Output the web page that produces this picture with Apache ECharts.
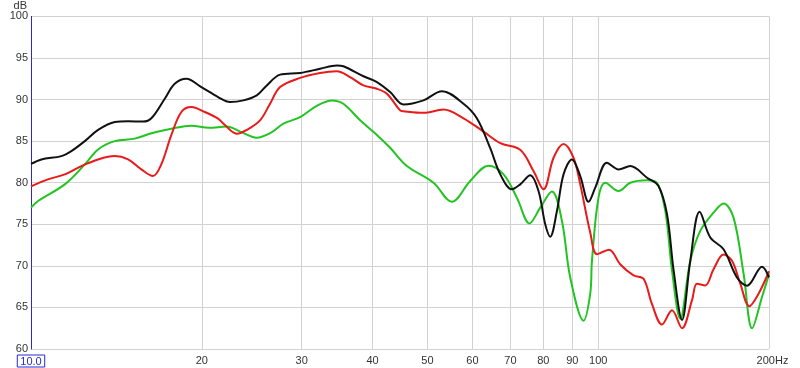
<!DOCTYPE html>
<html>
<head>
<meta charset="utf-8">
<script src="https://cdn.jsdelivr.net/npm/echarts@6/dist/echarts.min.js"></script>
<style>html,body{margin:0;padding:0;background:#fff}#c{width:800px;height:368px}</style>
</head>
<body>
<div id="c"></div>
<script>
// ---- data (frequency in Hz, level in dB) ----
const blackFreq = [10, 10.43, 11.31, 11.78, 12.44, 13.13, 14.05, 14.83, 15.76, 16.30, 17.21, 17.92, 18.79, 19.97, 21.37, 22.44, 23.68, 25.0, 26.04, 27.49, 29.82, 32.34, 34.61, 35.54, 38.56, 40.72, 42.97, 45.36, 49.19, 53.02, 57.87, 61.10, 64.50, 67.19, 70.43, 72.85, 75.87, 78.47, 80.64, 82.29, 84.56, 86.86, 89.87, 92.96, 96.14, 98.79, 103.6, 108.6, 113.9, 121.9, 127.7, 132.2, 135.8, 140.5, 145.3, 150.9, 157.6, 166.3, 175.6, 182.9, 194.4, 200];
const blackDb = [82.25, 82.8, 83.2, 83.8, 85.0, 86.35, 87.3, 87.4, 87.35, 87.75, 90.1, 91.9, 92.5, 91.5, 90.3, 89.7, 89.9, 90.5, 91.7, 93.0, 93.2, 93.7, 94.1, 94.0, 92.8, 92.1, 90.9, 89.4, 89.9, 91.0, 89.5, 87.75, 84.15, 81.0, 79.2, 79.8, 80.9, 79.0, 75.0, 73.5, 76.6, 81.0, 82.8, 80.8, 77.7, 79.4, 82.4, 81.6, 82.0, 80.6, 79.6, 76.2, 69.45, 63.5, 70.6, 76.5, 73.4, 72.0, 68.6, 67.6, 69.9, 68.6];

const redFreq = [10, 10.71, 11.47, 12.27, 13.13, 14.05, 14.83, 15.65, 16.41, 16.97, 17.68, 18.41, 19.17, 20.25, 21.37, 21.84, 23.06, 24.01, 25.34, 26.39, 27.49, 29.82, 32.34, 34.61, 36.52, 38.56, 40.72, 42.41, 44.75, 45.36, 49.19, 53.37, 57.87, 62.77, 67.19, 72.85, 76.89, 80.09, 83.41, 86.86, 90.45, 92.96, 96.8, 99.5, 104.5, 109.3, 115.4, 120.2, 124.3, 129.5, 134.9, 140.5, 146.3, 149.3, 154.4, 159.7, 166.3, 172.1, 178.0, 184.6, 191.7, 200];
const redDb = [79.55, 80.4, 81.0, 82.0, 82.8, 83.2, 82.8, 81.6, 80.8, 82.2, 85.75, 88.5, 89.1, 88.5, 87.7, 87.1, 85.9, 86.35, 87.5, 89.5, 91.5, 92.6, 93.2, 93.4, 92.7, 91.7, 91.3, 90.7, 88.7, 88.6, 88.4, 88.8, 87.75, 86.15, 84.75, 83.95, 81.4, 79.2, 83.0, 84.65, 83.0, 79.8, 74.0, 71.4, 71.95, 70.2, 68.85, 68.45, 65.45, 62.95, 64.65, 62.5, 65.85, 67.85, 67.65, 69.6, 71.35, 70.6, 67.85, 65.15, 66.65, 69.35];

const greenFreq = [10, 10.29, 11.47, 12.44, 13.13, 14.05, 15.23, 16.30, 17.68, 19.17, 20.6, 22.14, 23.37, 25.0, 26.39, 27.86, 29.82, 31.90, 33.91, 35.54, 38.04, 40.72, 42.97, 45.99, 51.23, 55.21, 59.47, 64.05, 68.09, 71.88, 75.65, 79.01, 82.86, 86.3, 89.25, 94.2, 96.8, 97.48, 100.1, 102.9, 108.6, 113.9, 121.9, 126.9, 131.3, 134.9, 139.5, 145.3, 151.3, 159.7, 166.3, 173.2, 180.4, 186.7, 194.4, 200];
const greenDb = [77.0, 77.8, 79.8, 82.2, 84.0, 85.0, 85.3, 85.95, 86.5, 86.85, 86.6, 86.75, 86.15, 85.4, 85.95, 87.1, 87.9, 89.25, 89.9, 89.5, 87.5, 85.75, 84.2, 82.0, 80.0, 77.7, 80.2, 82.05, 81.0, 78.2, 75.1, 77.0, 78.95, 75.4, 68.6, 63.4, 66.65, 70.6, 78.2, 80.0, 79.0, 80.0, 80.3, 80.0, 76.6, 69.45, 63.65, 70.6, 74.2, 76.4, 77.5, 75.8, 69.05, 62.5, 66.25, 69.0];

const xGridTicks = [20, 30, 40, 50, 60, 70, 80, 90, 100, 200];
const xTickLabels = ['20', '30', '40', '50', '60', '70', '80', '90', '100', '{a|200}Hz'];
const xStart = 10;
const xStartLabel = '10.0';
const yMin = 60, yMax = 100, yStep = 5;
const yName = 'dB';

// ---- chart ----
const toPairs = (f, d) => f.map((x, i) => [x, d[i]]);
const FONT = '"Liberation Sans", Arial, sans-serif';

const gridMarks = xGridTicks.map((v, i) => ({
  xAxis: v,
  label: { formatter: xTickLabels[i] }
}));
gridMarks.unshift({
  xAxis: xStart,
  lineStyle: { color: '#2a2ad0', width: 1, type: 'solid' },
  label: {
    formatter: xStartLabel,
    color: '#2a2ad0',
    borderColor: '#2a2ad0',
    borderWidth: 1,
    padding: [1, 3, 0, 3],
    distance: 6
  }
});

const chart = echarts.init(document.getElementById('c'), null, { renderer: 'canvas' });
chart.setOption({
  animation: false,
  backgroundColor: '#fff',
  grid: { left: 31, right: 31, top: 14, bottom: 19, containLabel: false },
  xAxis: {
    type: 'log', logBase: 10, min: 10, max: 200,
    axisLine: { show: false }, axisTick: { show: false },
    axisLabel: { show: false }, splitLine: { show: false }
  },
  yAxis: {
    type: 'value', min: yMin, max: yMax, interval: yStep,
    name: yName, nameLocation: 'end', nameGap: 3,
    nameTextStyle: { color: '#333', fontSize: 11, fontFamily: FONT, align: 'right', padding: [0, 4, 0, 0] },
    axisLine: { show: true, lineStyle: { color: '#2a2ad0', width: 1 } },
    axisTick: { show: false },
    axisLabel: { color: '#333', fontSize: 11, fontFamily: FONT, margin: 3 },
    splitLine: { show: true, lineStyle: { color: '#d2d2d2', width: 1 } }
  },
  series: [
    {
      type: 'line', name: 'green', data: toPairs(greenFreq, greenDb),
      smooth: 0.35, showSymbol: false, symbol: 'none', z: 3,
      lineStyle: { color: '#22c422', width: 2 },
      markLine: {
        silent: true, symbol: ['none', 'none'], z: 1, animation: false,
        lineStyle: { color: '#d2d2d2', width: 1, type: 'solid' },
        label: {
          show: true, position: 'start', distance: 6,
          color: '#333', fontSize: 11, fontFamily: FONT,
          rich: { a: { color: '#333', fontSize: 11, fontFamily: FONT, padding: [0, 0, 0, 7] } }
        },
        emphasis: { disabled: true },
        data: gridMarks
      }
    },
    {
      type: 'line', name: 'red', data: toPairs(redFreq, redDb),
      smooth: 0.35, showSymbol: false, symbol: 'none', z: 4,
      lineStyle: { color: '#e81a1a', width: 2 }
    },
    {
      type: 'line', name: 'black', data: toPairs(blackFreq, blackDb),
      smooth: 0.35, showSymbol: false, symbol: 'none', z: 5,
      lineStyle: { color: '#111', width: 2 }
    }
  ]
});
</script>
</body>
</html>
